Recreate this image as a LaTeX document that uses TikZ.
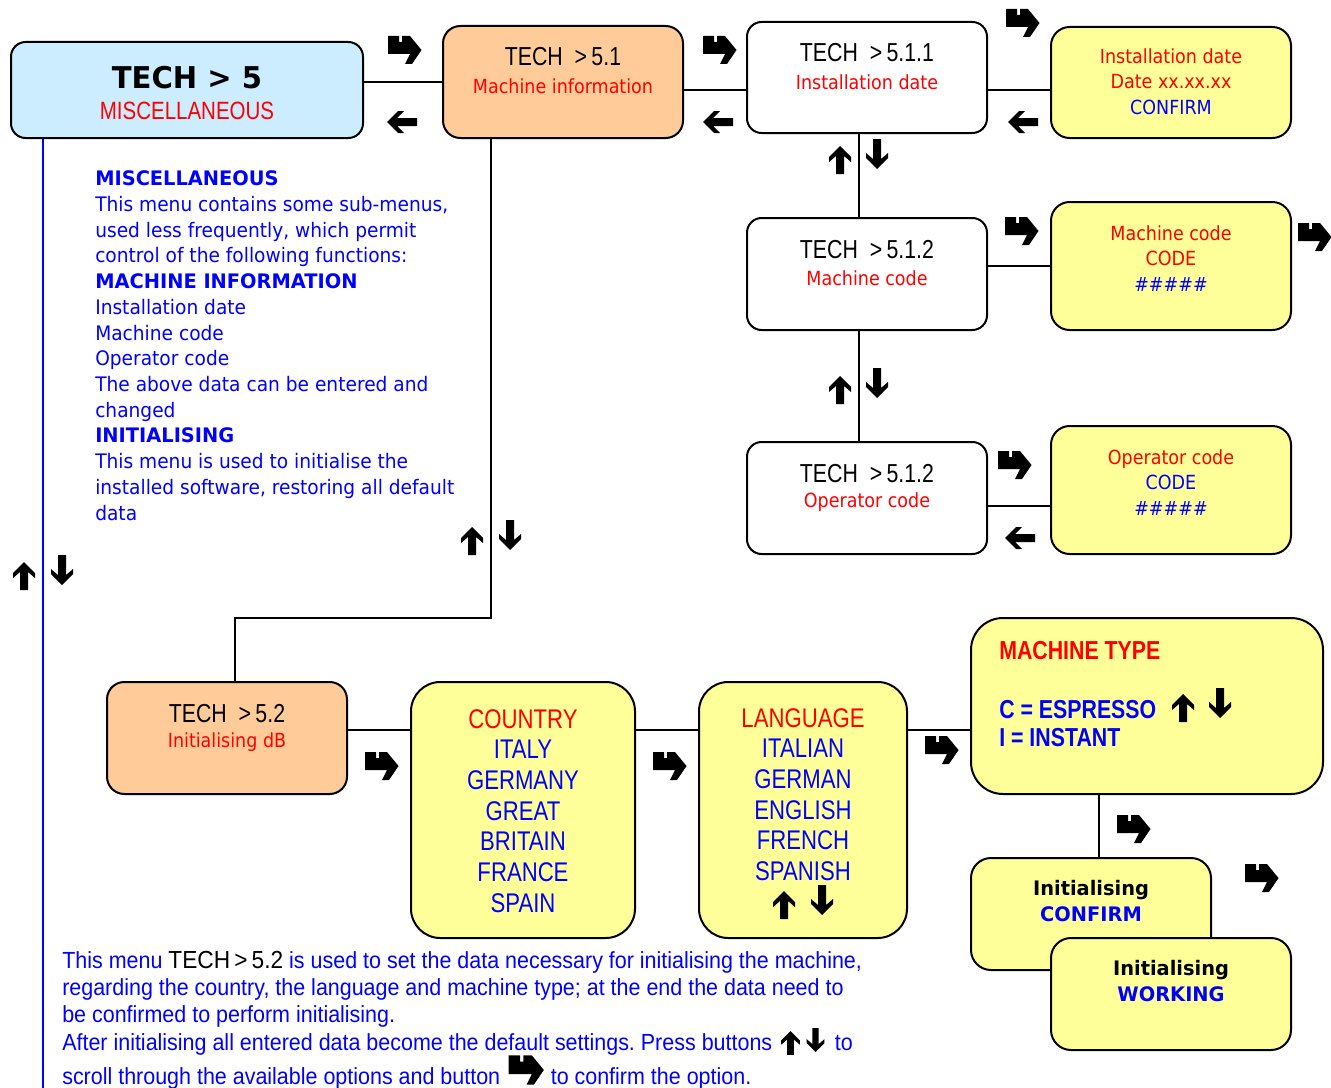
\documentclass[tikz,border=0pt]{standalone}
\usepackage{fontspec}
\setmainfont{DejaVu Sans}
\frenchspacing
\newfontfamily\tah[FakeStretch=0.9,BoldFeatures={FakeStretch=0.97}]{DejaVu Sans}
\newfontfamily\tahp[FakeStretch=0.93,BoldFeatures={FakeStretch=0.97}]{DejaVu Sans}
\newfontfamily\nar[FakeStretch=0.82]{Liberation Sans}
\newfontfamily\narw[FakeStretch=0.92]{Liberation Sans}
\usetikzlibrary{calc}
\definecolor{lblue}{HTML}{CCECFF}
\definecolor{peach}{HTML}{FFCC99}
\definecolor{lyel}{HTML}{FFFF99}
\definecolor{myred}{HTML}{FF0000}
\definecolor{myblue}{HTML}{0000FF}
\tikzset{
 box/.style={draw=black, line width=1.5pt, inner sep=0pt, rounded corners=11pt},
 conn/.style={draw=black, line width=1.2pt},
 bline/.style={draw=myblue, line width=1.5pt},
 tbig/.style={inner sep=0pt, font=\tah\bfseries\fontsize{22.5}{27}\selectfont},
 tlab/.style={inner sep=0pt, font=\nar\fontsize{19.5}{23}\selectfont},
 tmisc/.style={inner sep=0pt, text=myred, font=\nar\fontsize{18.75}{23}\selectfont},
 rsub/.style={inner sep=0pt, text=myred, font=\tah\fontsize{14.6}{19.1}\selectfont},
 ytxt/.style={inner sep=0pt, align=center, font=\tah\fontsize{14.6}{19.1}\selectfont},
 lst/.style={inner sep=0pt, align=center, text=myblue, font=\nar\fontsize{20.25}{23}\selectfont},
 mtt/.style={inner sep=0pt, anchor=west, font=\nar\bfseries\fontsize{19.5}{23}\selectfont},
 itxt/.style={inner sep=0pt, align=center, font=\tah\bfseries\fontsize{15}{19.5}\selectfont},
 para/.style={inner sep=0pt, align=left, text=myblue, font=\tahp\fontsize{15}{19.3}\selectfont},
 bpara/.style={inner sep=0pt, align=left, text=myblue, font=\narw\fontsize{17.5}{20.25}\selectfont},
 enterarr/.pic={\fill[black] (-17,-14) -- (-6,-14) -- (-6,-8) -- (-3,-8) -- (-3,-14) -- (5,-14) -- (16.5,0) -- (7,14) -- (0,14) -- (5,4) -- (-17,4) -- cycle;},
 uparr/.pic={\fill[black] (0,-14) -- (11,-3) -- (11,2) -- (4,-4) -- (4,14) -- (-4,14) -- (-4,-4) -- (-11,2) -- (-11,-3) -- cycle;},
 downarr/.pic={\fill[black] (0,15) -- (11,4) -- (11,-1) -- (4,5) -- (4,-15) -- (-4,-15) -- (-4,5) -- (-11,-1) -- (-11,4) -- cycle;},
 leftarr/.pic={\fill[black] (-15,0) -- (-4,-11) -- (2,-11) -- (-5,-4) -- (15,-4) -- (15,4) -- (-5,4) -- (2,11) -- (-4,11) -- cycle;},
}
\begin{document}
\begin{tikzpicture}[x=0.75pt, y=-0.75pt]
\useasboundingbox (0,0) rectangle (1331,1088);

% ---- boxes ----
\node[box, fill=lblue, minimum width={352*0.75pt}, minimum height={96*0.75pt}] (t5) at (187,90) {};
\node[box, fill=peach, rounded corners=13pt, minimum width={240*0.75pt}, minimum height={112*0.75pt}] (t51) at (563,82) {};
\node[box, fill=white, minimum width={240*0.75pt}, minimum height={111*0.75pt}] (t511) at (867,77.5) {};
\node[box, fill=lyel, rounded corners=14pt, minimum width={240*0.75pt}, minimum height={111*0.75pt}] (iy) at (1171,82.5) {};
\node[box, fill=white, minimum width={240*0.75pt}, minimum height={112*0.75pt}] (t512) at (867,274) {};
\node[box, fill=lyel, rounded corners=14pt, minimum width={240*0.75pt}, minimum height={128*0.75pt}] (mc) at (1171,266) {};
\node[box, fill=white, minimum width={240*0.75pt}, minimum height={112*0.75pt}] (op) at (867,498) {};
\node[box, fill=lyel, rounded corners=14pt, minimum width={240*0.75pt}, minimum height={128*0.75pt}] (opy) at (1171,490) {};
\node[box, fill=peach, rounded corners=13pt, minimum width={240*0.75pt}, minimum height={112*0.75pt}] (t52) at (227,738) {};
\node[box, fill=lyel, rounded corners=22pt, minimum width={224*0.75pt}, minimum height={256*0.75pt}] (ctry) at (523,810) {};
\node[box, fill=lyel, rounded corners=22pt, minimum width={208*0.75pt}, minimum height={256*0.75pt}] (lang) at (803,810) {};
\node[box, fill=lyel, rounded corners=24pt, minimum width={352*0.75pt}, minimum height={176*0.75pt}] (mt) at (1147,706) {};
\node[box, fill=lyel, rounded corners=15pt, minimum width={240*0.75pt}, minimum height={112*0.75pt}] (i1) at (1091,914) {};
\node[box, fill=lyel, rounded corners=15pt, minimum width={240*0.75pt}, minimum height={112*0.75pt}] (i2) at (1171,994) {};

% ---- connectors ----
\draw[conn] (t5.east |- t51.west) -- (t51.west);
\draw[conn] ($(t51.east)+(0,8)$) coordinate (c1) -- (c1 -| t511.west);
\draw[conn] ($(t511.east)+(0,12.5)$) coordinate (c2) -- (c2 -| iy.west);
\draw[conn] ($(t511.south)+(-8,0)$) coordinate (c3) -- (c3 |- t512.north);
\draw[conn] ($(t512.south)+(-8,0)$) coordinate (c4) -- (c4 |- op.north);
\draw[conn] ($(t512.east)+(0,-8)$) coordinate (c5) -- (c5 -| mc.west);
\draw[conn] ($(op.east)+(0,8)$) coordinate (c6) -- (c6 -| opy.west);
\coordinate (k1) at (235,618);
\draw[conn] ($(t51.south)+(-72,0)$) coordinate (c7) |- (k1) -- (k1 |- t52.north);
\draw[conn] ($(t52.east)+(0,-8)$) coordinate (c8) -- (c8 -| ctry.west);
\draw[conn] ($(ctry.east)+(0,-80)$) coordinate (c9) -- (c9 -| lang.west);
\draw[conn] ($(lang.east)+(0,-80)$) coordinate (c10) -- (c10 -| mt.west);
\draw[conn] ($(mt.south)+(-48,0)$) coordinate (c11) -- (c11 |- i1.north);
\coordinate (bl) at (43,1088);
\draw[bline] (t5.south -| bl) -- (bl);

% ---- box texts ----
\node[tbig] (t5a) at (187,78) {TECH > 5};
\node[tmisc] (t5b) at (187,111) {MISCELLANEOUS};
\node[tlab] (t51a) at (563,57) {TECH\ \ >\,5.1};
\node[rsub] (t51b) at (563,86) {Machine information};
\node[tlab] (t511a) at (867,53) {TECH\ \ >\,5.1.1};
\node[rsub] (t511b) at (867,82) {Installation date};
\node[ytxt] (iya) at (1171,81.5) {\textcolor{myred}{Installation date}\\\textcolor{myred}{Date xx.xx.xx}\\\textcolor{myblue}{CONFIRM}};
\node[tlab] (t512a) at (867,250) {TECH\ \ >\,5.1.2};
\node[rsub] (t512b) at (867,278) {Machine code};
\node[ytxt] (mca) at (1171,258.5) {\textcolor{myred}{Machine code}\\\textcolor{myred}{CODE}\\\textcolor{myblue}{\#\#\#\#\#}};
\node[tlab] (opa) at (867,474) {TECH\ \ >\,5.1.2};
\node[rsub] (opb) at (867,502) {Operator code};
\node[ytxt] (opya) at (1171,482.5) {\textcolor{myred}{Operator code}\\\textcolor{myblue}{CODE}\\\textcolor{myblue}{\#\#\#\#\#}};
\node[tlab] (t52a) at (227,714) {TECH\ \ >\,5.2};
\node[rsub] (t52b) at (227,742) {Initialising dB};
\node[lst] (ctrya) at (523,811) {\textcolor{myred}{COUNTRY}\\ITALY\\GERMANY\\GREAT\\BRITAIN\\FRANCE\\SPAIN};
\node[lst] (langa) at (803,794.5) {\textcolor{myred}{LANGUAGE}\\ITALIAN\\GERMAN\\ENGLISH\\FRENCH\\SPANISH};
\node[mtt, text=myred] (mta) at (999,651) {MACHINE TYPE};
\node[mtt, text=myblue] (mtb) at (999,710) {C = ESPRESSO};
\node[mtt, text=myblue] (mtc) at (999,738) {I = INSTANT};
\node[itxt] (i1a) at (1091,901) {Initialising\\\textcolor{myblue}{CONFIRM}};
\node[itxt] (i2a) at (1171,981) {Initialising\\\textcolor{myblue}{WORKING}};

% ---- descriptive text ----
\node[para, anchor=north west] (desc) at (95,170.5) {\textbf{MISCELLANEOUS}\\This menu contains some sub-menus,\\used less frequently, which permit\\control of the following functions:\\\textbf{MACHINE INFORMATION}\\Installation date\\Machine code\\Operator code\\The above data can be entered and\\changed\\\textbf{INITIALISING}\\This menu is used to initialise the\\installed software, restoring all default\\data};

\node[bpara, anchor=north west] (bp1) at (62,951.4) {This menu {\color{black}\fontsize{18.5}{20.25}\selectfont TECH\,>\,5.2} is used to set the data necessary for initialising the machine,\\regarding the country, the language and machine type; at the end the data need to\\be confirmed to perform initialising.};
\node[bpara, anchor=base west] (bp4) at (62,1050) {After initialising all entered data become the default settings. Press buttons};
\node[bpara, anchor=base west] (bp4b) at ($(bp4.base east)+(62,0)$) {to};
\node[bpara, anchor=base west] (bp5) at (62,1084) {scroll through the available options and button};
\node[bpara, anchor=base west] (bp5b) at ($(bp5.base east)+(50,0)$) {to confirm the option.};
\pic[scale=0.85] at ($(bp4.base east)+(18,-7)$) {uparr};
\pic[scale=0.8] at ($(bp4.base east)+(43,-10)$) {downarr};
\pic[scale=1.05] at ($(bp5.base east)+(26,-14)$) {enterarr};

% ---- arrow glyphs ----
\foreach \p in {(405,50),(720,50),(1023,23),(1022,231),(1315,237),(1015,465),(382,766),(670,766),(942,750),(1134,829),(1262,878)}
  \pic at \p {enterarr};
\foreach \p in {(402,122),(718,122),(1023,122),(1020,538)}
  \pic at \p {leftarr};
\foreach \p in {(840,160),(840,390),(472,541),(24,576),(784,905),(1183,708)}
  \pic at \p {uparr};
\foreach \p in {(877,154),(877,383),(510,535),(62,570),(822,900),(1220,703)}
  \pic at \p {downarr};
\end{tikzpicture}
\end{document}
